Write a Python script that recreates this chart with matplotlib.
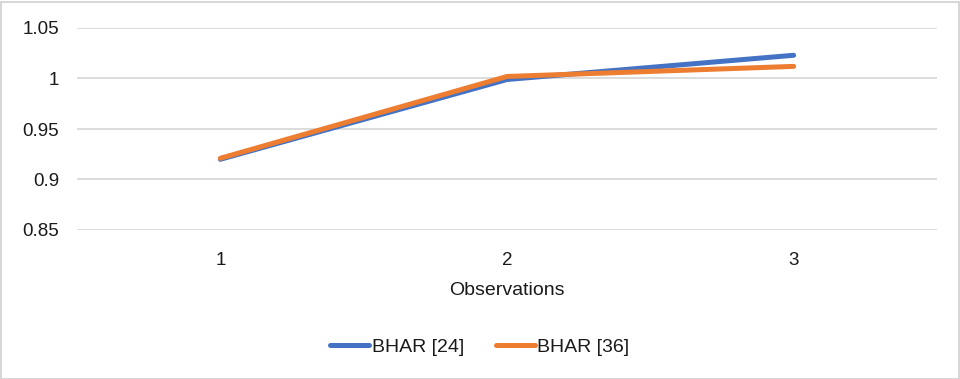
import matplotlib
matplotlib.use('Agg')
import matplotlib.pyplot as plt
from matplotlib.patches import Rectangle

categories = ['1', '2', '3']
bhar_24 = [0.920, 0.999, 1.023]
bhar_36 = [0.921, 1.002, 1.012]
y_ticks = [0.85, 0.9, 0.95, 1.0, 1.05]
y_labels = ['0.85', '0.9', '0.95', '1', '1.05']

plt.rcParams['font.family'] = ['Liberation Sans', 'DejaVu Sans']

fig = plt.figure(figsize=(9.6, 3.79), dpi=100)
ax = fig.add_axes([77/960, 1 - 230/379, (937 - 77)/960, (230 - 28)/379])

x = range(len(categories))
ax.plot(x, bhar_24, color='#4472C4', lw=3.6, solid_capstyle='round', label='BHAR [24]', zorder=3)
ax.plot(x, bhar_36, color='#ED7D31', lw=3.6, solid_capstyle='round', label='BHAR [36]', zorder=4)

ax.set_xlim(-0.5, 2.5)
ax.set_ylim(0.85, 1.05)
ax.set_xticks(list(x))
ax.set_xticklabels(categories)
ax.set_yticks(y_ticks)
ax.set_yticklabels(y_labels)
ax.tick_params(length=0, labelsize=13.5, colors='#1a1a1a')
ax.tick_params(axis='x', pad=16)
ax.tick_params(axis='y', pad=13)
for s in ax.spines.values():
    s.set_visible(False)
ax.grid(axis='y', color='#D9D9D9', lw=1.3)
ax.set_axisbelow(True)
ax.set_xlabel('Observations', fontsize=14, color='#1a1a1a', labelpad=9)

leg = fig.legend(loc='center', bbox_to_anchor=(0.5, 1 - 347/379), ncol=2, frameon=False,
                 fontsize=14, handlelength=2.0, handletextpad=0.15, columnspacing=1.6)
for t in leg.get_texts():
    t.set_color('#1a1a1a')

fig.patches.append(Rectangle((0.5/960, 0.5/379), 958/960, 377/379, transform=fig.transFigure,
                             fill=False, edgecolor='#D0D0D0', lw=1.2))

fig.savefig('out.png', dpi=100)
